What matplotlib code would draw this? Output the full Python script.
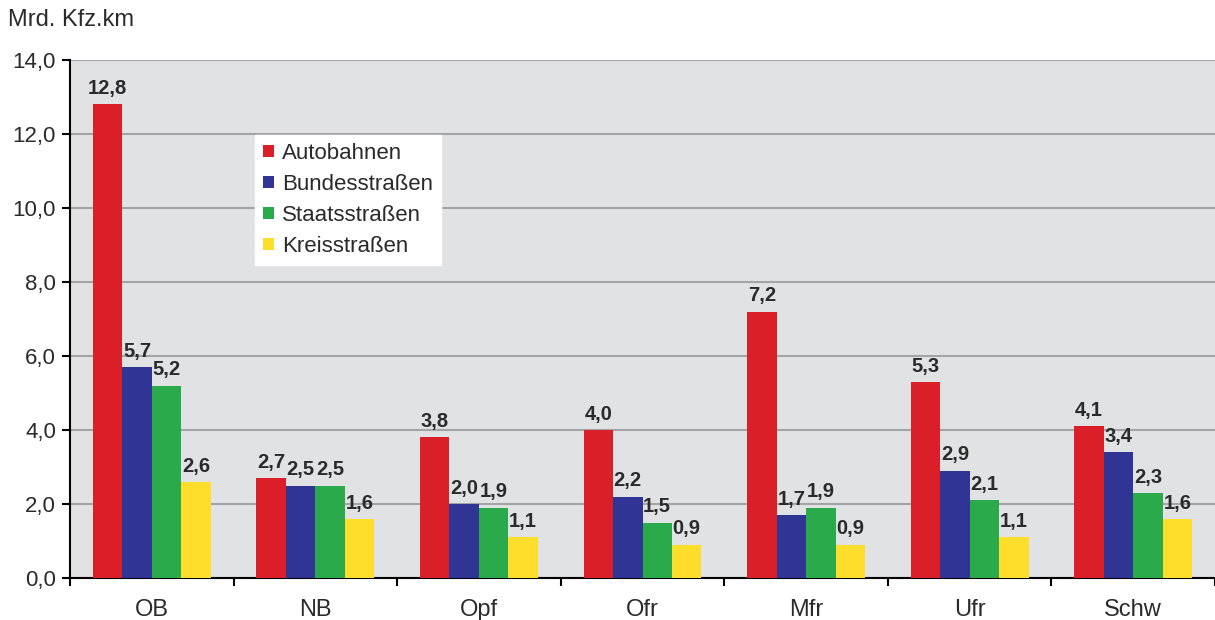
import matplotlib.pyplot as plt
import numpy as np

plt.rcParams['font.family'] = ['Liberation Sans', 'DejaVu Sans']

regions = ['OB', 'NB', 'Opf', 'Ofr', 'Mfr', 'Ufr', 'Schw']
autobahnen = [12.8, 2.7, 3.8, 4.0, 7.2, 5.3, 4.1]
bundesstrassen = [5.7, 2.5, 2.0, 2.2, 1.7, 2.9, 3.4]
staatsstrassen = [5.2, 2.5, 1.9, 1.5, 1.9, 2.1, 2.3]
kreisstrassen = [2.6, 1.6, 1.1, 0.9, 0.9, 1.1, 1.6]
series_names = ['Autobahnen', 'Bundesstraßen', 'Staatsstraßen', 'Kreisstraßen']
colors = ['#da1f28', '#303595', '#2aaa4a', '#fedd2b']
txt = '#2a2a2a'

fig = plt.figure(figsize=(12.15, 6.2), dpi=100)
ax = fig.add_axes([70/1215, 42/620, 1 - 70/1215, 518/620])
ax.set_facecolor('#e1e2e4')

x = np.arange(len(regions))
w = 0.18
all_series = [autobahnen, bundesstrassen, staatsstrassen, kreisstrassen]
for i, (vals, name, c) in enumerate(zip(all_series, series_names, colors)):
    pos = x + (i - 1.5) * w
    ax.bar(pos, vals, width=w, color=c, label=name, zorder=3)
    for p, v in zip(pos, vals):
        ax.text(p, v + 0.17, f'{v:.1f}'.replace('.', ','), ha='center', va='bottom',
                fontsize=14.5, fontweight='bold', color=txt, zorder=4)

ax.set_xlim(-0.5, len(regions) - 0.5)
ax.set_ylim(0, 14)
ax.set_yticks(np.arange(0, 14.1, 2))
ax.set_yticklabels([f'{t:.1f}'.replace('.', ',') for t in np.arange(0, 14.1, 2)],
                   fontsize=16, color=txt)
ax.yaxis.grid(True, color='#a3a4a6', linewidth=1.5, zorder=0)

ax.set_xticks(x)
ax.set_xticklabels(regions, fontsize=17, color=txt)
ax.tick_params(axis='x', length=0, pad=15)
ax.set_xticks(np.arange(-0.5, len(regions), 1), minor=True)
ax.tick_params(axis='x', which='minor', length=6, width=1.5, direction='out')
ax.tick_params(axis='y', length=6, width=1.5, direction='out', pad=4)

for s in ['top', 'right']:
    ax.spines[s].set_visible(False)
ax.spines['left'].set_linewidth(1.5)
ax.spines['bottom'].set_linewidth(1.5)

leg = ax.legend(loc='upper left', bbox_to_anchor=(0.162, 0.855), fontsize=16,
                frameon=True, fancybox=False, edgecolor='white', framealpha=1,
                handlelength=0.5, handleheight=0.5, handletextpad=0.35,
                labelspacing=0.45, borderpad=0.35, borderaxespad=0)
leg.set_zorder(5)
for t in leg.get_texts():
    t.set_color(txt)

fig.text(8/1215, 1 - 20/620, 'Mrd. Kfz.km', fontsize=17, color=txt, va='center')

fig.savefig('out.png', dpi=100)
